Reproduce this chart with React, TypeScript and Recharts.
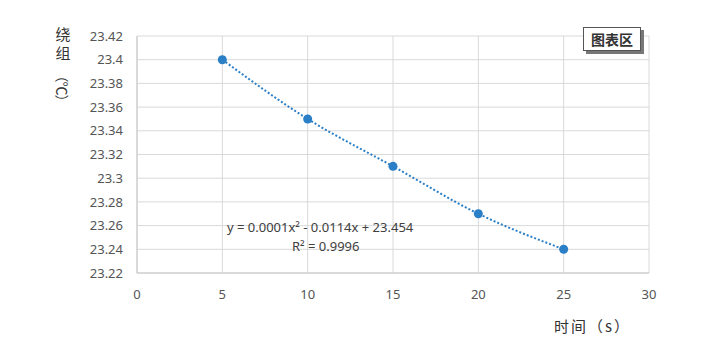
import { ComposedChart, Line, Scatter, XAxis, YAxis, CartesianGrid } from "recharts";

const times = [5, 10, 15, 20, 25];
const temps = [23.4, 23.35, 23.31, 23.27, 23.24];
const xTicks = [0, 5, 10, 15, 20, 25, 30];
const yTicks = [23.22, 23.24, 23.26, 23.28, 23.3, 23.32, 23.34, 23.36, 23.38, 23.4, 23.42];
const formulaText = "y = 0.0001x² - 0.0114x + 23.454";
const r2Text = "R² = 0.9996";

const font = "'Noto Sans', 'Noto Sans CJK SC', sans-serif";
const blue = "#2a7fc6";

export default function App() {
  const data = times.map((t, i) => ({ x: t, y: temps[i] }));
  return (
    <div style={{ position: "absolute", left: 0, top: 0, width: 706, height: 355, background: "#fff", fontFamily: font }}>
      <ComposedChart
        width={706}
        height={355}
        data={data}
        margin={{ top: 36, right: 57, left: 0, bottom: 0 }}
      >
        <CartesianGrid stroke="#d9d9d9" />
        <XAxis
          dataKey="x"
          type="number"
          domain={[0, 30]}
          ticks={xTicks}
          height={82}
          tickSize={0}
          tickMargin={17}
          stroke="#c8c8c8"
          tick={{ fill: "#555", fontSize: 13, fontFamily: font }}
        />
        <YAxis
          type="number"
          domain={[23.22, 23.42]}
          ticks={yTicks}
          width={137}
          tickSize={0}
          tickMargin={14}
          stroke="#c8c8c8"
          tick={{ fill: "#555", fontSize: 13, fontFamily: font }}
        />
        <Line
          dataKey="y"
          type="monotone"
          stroke={blue}
          strokeWidth={2}
          strokeDasharray="2 2"
          dot={false}
          isAnimationActive={false}
        />
        <Scatter dataKey="y" fill={blue} shape={(p: any) => <circle cx={p.cx} cy={p.cy} r={4.5} fill={blue} />} isAnimationActive={false} />
      </ComposedChart>

      <div style={{ position: "absolute", left: 54, top: 24, width: 18, fontSize: 15, color: "#333", lineHeight: "19px", textAlign: "center", fontFamily: "'Noto Sans CJK SC', sans-serif" }}>
        <div>绕</div>
        <div>组</div>
      </div>
      <div
        style={{
          position: "absolute",
          left: 63 - 22,
          top: 88 - 9,
          width: 44,
          height: 18,
          lineHeight: "18px",
          textAlign: "center",
          fontSize: 14,
          letterSpacing: -1,
          color: "#333",
          whiteSpace: "nowrap",
          transform: "rotate(90deg)",
          fontFamily: "'Noto Sans CJK SC', sans-serif",
        }}
      >
        （℃）
      </div>

      <div style={{ position: "absolute", left: 227, top: 218, fontSize: 13, color: "#404040", whiteSpace: "nowrap" }}>
        {formulaText}
      </div>
      <div style={{ position: "absolute", left: 292, top: 237, fontSize: 13, color: "#404040", whiteSpace: "nowrap" }}>
        {r2Text}
      </div>

      <div style={{ position: "absolute", left: 554, top: 315, fontSize: 15, color: "#333", letterSpacing: 2, fontFamily: "'Noto Sans CJK SC', sans-serif" }}>
        时间（s）
      </div>

      <div
        style={{
          position: "absolute",
          left: 583,
          top: 27,
          width: 56,
          height: 22,
          border: "1.5px solid #555",
          background: "#fff",
          boxShadow: "3px 3px 0 #777",
          fontSize: 14,
          fontWeight: 600,
          color: "#333",
          textAlign: "center",
          lineHeight: "22px",
          fontFamily: "'Noto Sans CJK SC', sans-serif",
        }}
      >
        图表区
      </div>
    </div>
  );
}
